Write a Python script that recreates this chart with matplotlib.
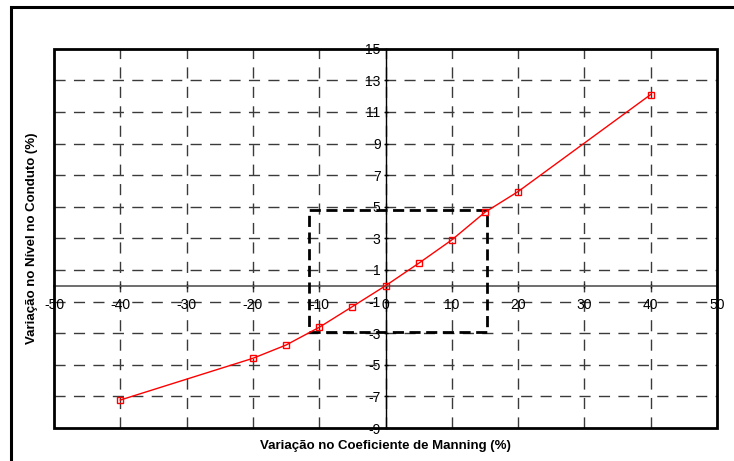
import matplotlib.pyplot as plt
from matplotlib.patches import Rectangle
import numpy as np

plt.rcParams["font.family"] = ["Liberation Sans", "DejaVu Sans"]
plt.rcParams["axes.unicode_minus"] = False

# data
manning_var = [-40, -20, -15, -10, -5, 0, 5, 10, 15, 20, 40]
nivel_var = [-7.23, -4.59, -3.75, -2.63, -1.32, 0.0, 1.42, 2.9, 4.65, 5.96, 12.1]

# highlighted region
box_x = [-11.5, 15.35]
box_y = [-2.9, 4.8]

x_ticks = np.arange(-50, 51, 10)
y_ticks = np.arange(-9, 16, 2)

fig = plt.figure(figsize=(7.34, 4.61), dpi=100)
W, H = 734, 461
ax = fig.add_axes([54 / W, (461 - 428) / H, (717 - 54) / W, (428 - 48.7) / H])

# outer frame of the figure (cut at right / bottom like in the original)
fig.patches.append(Rectangle((11 / W, -0.1), 2, (461 - 7) / H + 0.1, transform=fig.transFigure,
                             fill=False, edgecolor="black", linewidth=2.2))

ax.plot(manning_var, nivel_var, color="red", linewidth=1, marker="s", markersize=5,
        markerfacecolor="none", markeredgecolor="red", markeredgewidth=1, zorder=5)

ax.plot([box_x[0], box_x[1], box_x[1], box_x[0], box_x[0]],
        [box_y[0], box_y[0], box_y[1], box_y[1], box_y[0]],
        color="black", linewidth=2, linestyle=(0, (4, 2)), zorder=4)

ax.set_xlim(-50, 50)
ax.set_ylim(-9, 15)
ax.set_xticks(x_ticks)
ax.set_yticks(y_ticks)

for xv in x_ticks[1:-1]:
    ax.axvline(xv, color="#3a3a3a", linewidth=1, linestyle=(0, (8, 6)), zorder=1)
for yv in y_ticks[1:-1]:
    ax.axhline(yv, color="#3a3a3a", linewidth=1, linestyle=(0, (8, 6)), zorder=1)

ax.spines["left"].set_position(("data", 0))
ax.spines["bottom"].set_position(("data", 0))
ax.spines["left"].set_linewidth(1)
ax.spines["bottom"].set_linewidth(1.2)
ax.spines["bottom"].set_color("#555555")
ax.spines["top"].set_visible(False)
ax.spines["right"].set_visible(False)
ax.add_patch(Rectangle((0, 0), 1, 1, transform=ax.transAxes, fill=False,
                       edgecolor="black", linewidth=2, clip_on=False, zorder=6))

ax.tick_params(axis="both", labelsize=10, length=3, width=1, direction="inout", pad=2)
ax.tick_params(axis="x", pad=7)

ax.text(0.5, -0.032, "Variação no Coeficiente de Manning (%)", transform=ax.transAxes,
        ha="center", va="top", fontsize=9.5, fontweight="bold")
fig.text(32 / W, 1 - 238 / H, "Variação no Nível no Conduto (%)", rotation=90,
         ha="center", va="center", fontsize=9.5, fontweight="bold")

fig.savefig("out.png", dpi=100)
